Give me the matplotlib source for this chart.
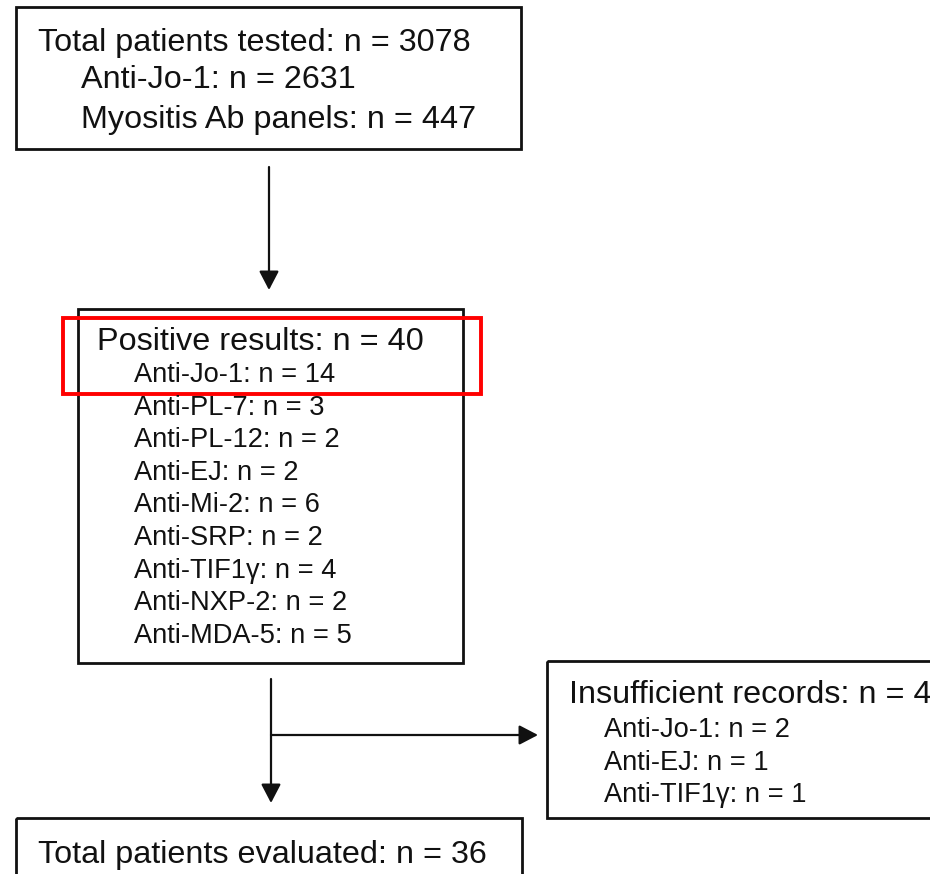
import matplotlib.pyplot as plt
from matplotlib.patches import Rectangle

plt.rcParams['font.family'] = ['Liberation Sans', 'DejaVu Sans']

# flow counts
tested_total = 3078
tested_groups = ['Anti-Jo-1', 'Myositis Ab panels']
tested_counts = [2631, 447]

positive_total = 40
positive_abs = ['Anti-Jo-1', 'Anti-PL-7', 'Anti-PL-12', 'Anti-EJ', 'Anti-Mi-2',
                'Anti-SRP', 'Anti-TIF1γ', 'Anti-NXP-2', 'Anti-MDA-5']
positive_counts = [14, 3, 2, 2, 6, 2, 4, 2, 5]

excluded_total = 4
excluded_abs = ['Anti-Jo-1', 'Anti-EJ', 'Anti-TIF1γ']
excluded_counts = [2, 1, 1]

evaluated_total = 36

BIG = 23.3
SMALL = 19.6

fig = plt.figure(figsize=(9.3, 8.74), dpi=100)
ax = fig.add_axes([0, 0, 1, 1])
ax.set_xlim(0, 930)
ax.set_ylim(874, 0)
ax.axis('off')


def box(x0, y0, x1, y1, color='#111111', lw=2.0):
    ax.add_patch(Rectangle((x0, y0), x1 - x0, y1 - y0, fill=False,
                           edgecolor=color, linewidth=lw, zorder=2))


def arrow(x0, y0, x1, y1):
    ax.annotate('', xy=(x1, y1), xytext=(x0, y0),
                arrowprops=dict(arrowstyle='-|>,head_length=1.15,head_width=0.6',
                                color='#111111', lw=1.6, shrinkA=0, shrinkB=0))


def txt(x, y, s, size):
    ax.text(x, y, s, fontsize=size, color='#111111', ha='left', va='baseline')


# box 1
box(16, 7, 521, 149)
txt(38, 51, f'Total patients tested: n = {tested_total}', BIG)
for i, (g, c) in enumerate(zip(tested_groups, tested_counts)):
    txt(81, [88, 128][i], f'{g}: n = {c}', BIG)

arrow(269, 167, 269, 290)

# box 2
box(78, 309, 463, 663)
txt(97, 350, f'Positive results: n = {positive_total}', BIG)
for i, (g, c) in enumerate(zip(positive_abs, positive_counts)):
    txt(134, 382 + i * 32.6, f'{g}: n = {c}', SMALL)
box(63, 318, 481, 394, color='#ff0000', lw=2.8)

# split
arrow(271, 679, 271, 803)
arrow(271, 735, 538, 735)

# box 3
box(547, 661, 960, 818)
txt(569, 703, f'Insufficient records: n = {excluded_total}', BIG)
for i, (g, c) in enumerate(zip(excluded_abs, excluded_counts)):
    txt(604, 737 + i * 32.5, f'{g}: n = {c}', SMALL)

# box 4
box(16, 818, 522, 900)
txt(38, 863, f'Total patients evaluated: n = {evaluated_total}', BIG)

fig.savefig('out.png', dpi=100)
